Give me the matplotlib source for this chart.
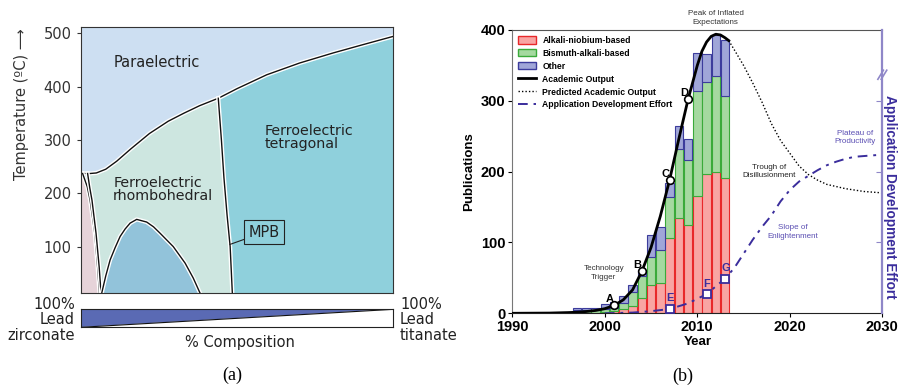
import numpy as np
import matplotlib
matplotlib.use('Agg')
import matplotlib.pyplot as plt
import matplotlib.patheffects as pe
from matplotlib.patches import Patch
from matplotlib.lines import Line2D

# ---------- (a) PZT phase diagram ----------
# composition (% PbTiO3) vs temperature (C)
curie_x = [0, 3, 5, 8, 11.5, 16, 22, 28, 33, 38, 44, 50, 59.5, 70, 80.8, 90, 100]
curie_t = [237, 237, 238, 245, 260, 283, 312, 335, 350, 364, 378, 396, 422, 444, 463, 478, 494]
mpb_x = [44, 45, 45.8, 46.8, 47.8, 48.5]
mpb_t = [378, 300, 230, 160, 100, 12.5]
afe_x = [0.6, 2.1, 3.0, 4.5, 5.4, 6.0]          # antiferroelectric edge
afe_t = [237, 212, 187, 125, 62, 12.5]
rho_x = [2.2, 2.9, 3.6, 4.9, 5.9, 6.5]          # rhombohedral left edge
rho_t = [237, 210, 187, 125, 62, 12.5]
dome_x = [6.7, 8, 9.4, 11, 12.6, 14.2, 15.8, 17.9, 21.1, 23.3, 25.4, 29.6, 33.4, 36, 38.2]
dome_t = [12.5, 45, 75, 98, 119, 133, 144, 151, 146, 137, 125, 100, 69, 41, 12.5]
sliver_x = [1.0, 2.1, 2.4]
sliver_t = [235, 235, 207]
comp_range = [0, 100]

# ---------- (b) publications ----------
years = np.arange(1990, 2014)
alkali = np.array([0, 0, 0, 0, 0, 0, 0, 1, 1, 1, 2, 3, 6, 10, 22, 40, 43, 107, 134, 124, 165, 196, 199, 191])
bismuth = np.array([0, 0, 0, 0, 0, 1, 0, 3, 3, 4, 4, 5, 9, 20, 31, 39, 47, 57, 98, 92, 149, 130, 136, 116])
other = np.array([1, 1, 0, 0, 1, 0, 1, 4, 4, 3, 7, 8, 10, 10, 8, 31, 32, 20, 32, 30, 54, 40, 58, 79])

acad_yr = [1990, 1994, 1996, 1997, 1998, 1999, 2000, 2001, 2002, 2003, 2004, 2005, 2006, 2007,
           2008, 2009, 2010, 2010.5, 2011, 2011.5, 2012, 2012.5, 2013, 2013.4]
acad_val = [0, 0.3, 1, 1.5, 2.5, 4, 6.5, 11, 19, 33, 59, 93, 137, 188,
            246, 302, 350, 370, 383, 391, 394, 393, 389, 385]
pred_yr = [2013.4, 2014, 2015, 2016, 2017, 2018, 2019, 2020, 2021, 2022, 2023, 2024, 2026, 2028, 2030]
pred_val = [385, 372, 350, 325, 298, 268, 244, 226, 208, 196, 188, 182, 176, 172, 170]
app_yr = [2000, 2003, 2005, 2007, 2009, 2011, 2013, 2014, 2015, 2016, 2017, 2018, 2019, 2020,
          2021, 2022, 2023, 2024, 2025, 2026, 2027, 2028, 2029, 2030]
app_val = [0, 1, 3, 6, 14, 27, 49, 64, 84, 104, 122, 138, 158, 174,
           186, 194, 202, 209, 214, 218, 221, 222, 223, 224]

acad_pts = ['A', 'B', 'C', 'D']
acad_pts_yr = [2001, 2004, 2007, 2009]
acad_pts_val = [11, 59, 188, 302]
app_pts = ['E', 'F', 'G']
app_pts_yr = [2007, 2011, 2013]
app_pts_val = [6, 27, 49]

fig = plt.figure(figsize=(9.04, 3.92), dpi=100)

# ================= panel (a) =================
ax = fig.add_axes([0.0893, 0.2518, 0.3458, 0.6786])
cx = np.array(curie_x)
ct = np.array(curie_t)
top = 520

ax.fill_between(cx, ct, top, color='#cddff2', lw=0)
# rhombohedral
m = (cx > rho_x[0]) & (cx < mpb_x[0])
rx = np.concatenate([[rho_x[0]], cx[m], mpb_x, rho_x[::-1]])
rt = np.concatenate([[rho_t[0]], ct[m], mpb_t, rho_t[::-1]])
ax.fill(rx, rt, color='#cde6e0', lw=0)
# tetragonal
m2 = cx > mpb_x[0]
tx = np.concatenate([mpb_x, [100], cx[m2][::-1]])
tt = np.concatenate([mpb_t, [12.5], ct[m2][::-1]])
ax.fill(tx, tt, color='#8fd0dc', lw=0)
# antiferroelectric
px = np.concatenate([[0], afe_x, [0]])
pt = np.concatenate([[afe_t[0]], afe_t, [12.5]])
ax.fill(px, pt, color='#e6d3d9', lw=0)
ax.fill(sliver_x, sliver_t, color='#1a9ad6', lw=0)
ax.fill(dome_x, dome_t, color='#92c3da', lw=0)

halo = [pe.Stroke(linewidth=3, foreground='white'), pe.Normal()]
for xs, ts in [(curie_x, curie_t), (mpb_x, mpb_t), (afe_x, afe_t), (rho_x, rho_t), (dome_x, dome_t)]:
    ax.plot(xs, ts, color='#111', lw=1.0, path_effects=halo)

ax.set_xlim(0, 100)
ax.set_ylim(12.5, 511)
ax.set_xticks([])
ax.set_yticks([100, 200, 300, 400, 500])
ax.tick_params(axis='y', labelsize=10.5, length=3, colors='#333')
for s in ax.spines.values():
    s.set_color('#333')
    s.set_linewidth(0.8)
ax.set_ylabel('Temperature (ºC) ⟶', fontsize=10.5, color='#333')
ax.yaxis.set_label_coords(-0.165, 0.71)

ax.text(24.3, 445, 'Paraelectric', fontsize=10.5, ha='center', va='center', color='#222')
ax.text(10.4, 207, 'Ferroelectric\nrhombohedral', fontsize=10.3, ha='left', va='center',
        color='#222', linespacing=0.95)
ax.text(58.7, 304, 'Ferroelectric\ntetragonal', fontsize=10.3, ha='left', va='center',
        color='#222', linespacing=0.95)
ax.annotate('MPB', xy=(47.7, 104), xytext=(58.7, 127), ha='center', va='center', fontsize=10.5,
            color='#222',
            bbox=dict(boxstyle='square,pad=0.3', fc='#8fd0dc', ec='#222', lw=0.8),
            arrowprops=dict(arrowstyle='-', color='#222', lw=0.8, shrinkA=0, shrinkB=0))

# composition bar
cb = fig.add_axes([0.0893, 0.165, 0.3458, 0.0459])
cb.fill([comp_range[0], comp_range[0], comp_range[1]], [0, 1, 1], color='#5a6ab4', lw=0)
cb.plot(comp_range, [0, 1], color='#111', lw=0.8)
cb.set_xlim(*comp_range)
cb.set_ylim(0, 1)
cb.set_xticks([])
cb.set_yticks([])
for s in cb.spines.values():
    s.set_color('#222')
    s.set_linewidth(0.8)

fig.text(0.083, 0.1837, '100%\nLead\nzirconate', ha='right', va='center', fontsize=10.5,
         linespacing=1.05, color='#222')
fig.text(0.4425, 0.1837, '100%\nLead\ntitanate', ha='left', va='center', fontsize=10.5,
         linespacing=1.05, color='#222')
fig.text(0.2655, 0.1268, '% Composition', ha='center', va='center', fontsize=10.5, color='#222')
fig.text(0.2566, 0.043, '(a)', ha='center', va='center', fontsize=13, family='Liberation Serif')

# ================= panel (b) =================
sans = 'Liberation Sans'
purple = '#3a2d9c'
lpurple = '#5b4fb3'
bx = fig.add_axes([0.5667, 0.2008, 0.4093, 0.7227])

red_fc, red_ec = '#f8a5a3', '#e8282a'
grn_fc, grn_ec = '#a5d9a0', '#3aaa3a'
blu_fc, blu_ec = '#a0a6d8', '#3c3c9c'
bx.bar(years, alkali, width=0.92, color=red_fc, edgecolor=red_ec, lw=0.8, zorder=2)
bx.bar(years, bismuth, width=0.92, bottom=alkali, color=grn_fc, edgecolor=grn_ec, lw=0.8, zorder=2)
bx.bar(years, other, width=0.92, bottom=alkali + bismuth, color=blu_fc, edgecolor=blu_ec, lw=0.8, zorder=2)

bx.plot(acad_yr, acad_val, color='k', lw=2, zorder=3)
bx.plot(pred_yr, pred_val, color='k', ls=(0, (1, 1.5)), lw=1, zorder=3)
bx.plot(app_yr, app_val, color=purple, ls=(0, (5, 3, 1.5, 3)), lw=1.4, zorder=3)
bx.plot(acad_pts_yr, acad_pts_val, 'o', mfc='white', mec='k', ms=5.5, mew=1.2, zorder=5)
bx.plot(app_pts_yr, app_pts_val, 's', mfc='white', mec=purple, ms=5.5, mew=1.3, zorder=5)

for lab, yr, v in zip(acad_pts, acad_pts_yr, acad_pts_val):
    bx.text(yr - 0.45, v + 9, lab, fontsize=8, fontweight='bold', family=sans,
            ha='center', va='center', color='k')
for lab, yr, v in zip(app_pts, app_pts_yr, app_pts_val):
    bx.text(yr + 0.05, v + 15, lab, fontsize=8, fontweight='bold', family=sans,
            ha='center', va='center', color=purple)

note = dict(fontsize=5.8, family=sans, ha='center', va='center', linespacing=1.3)
bx.text(1999.9, 57, 'Technology\nTrigger', color='#333', **note)
bx.text(2012, 417, 'Peak of Inflated\nExpectations', color='#333', clip_on=False, **note)
bx.text(2017.8, 200, 'Trough of\nDisillusionment', color='#222', **note)
bx.text(2027.05, 248, 'Plateau of\nProductivity', color=lpurple, **note)
bx.text(2020.3, 115, 'Slope of\nEnlightenment', color=lpurple, **note)

bx.set_xlim(1990, 2030)
bx.set_ylim(0, 400)
bx.set_xticks([1990, 2000, 2010, 2020, 2030])
bx.set_yticks([0, 100, 200, 300, 400])
bx.tick_params(length=3, width=0.8, pad=2)
for t in bx.get_xticklabels() + bx.get_yticklabels():
    t.set_family(sans)
    t.set_fontweight('bold')
    t.set_fontsize(10.5)
bx.set_xlabel('Year', family=sans, fontweight='bold', fontsize=9.5, labelpad=1)
bx.set_ylabel('Publications', family=sans, fontweight='bold', fontsize=9.5, labelpad=4)
bx.spines['left'].set_color('#777')
bx.spines['top'].set_color('#555')
bx.spines['top'].set_linewidth(0.8)
bx.spines['right'].set_visible(False)
bx.spines['bottom'].set_color('#222')

bx2 = bx.twinx()
bx2.set_ylim(bx.get_ylim())
bx2.set_yticks([100, 200, 300])
bx2.tick_params(direction='in', length=4, color='#8f87c8', labelright=False)
for k in ['left', 'top', 'bottom']:
    bx2.spines[k].set_visible(False)
bx2.spines['right'].set_color('#8f87c8')
bx2.spines['right'].set_linewidth(1.6)
bx2.set_ylabel('Application Development Effort', family=sans, fontweight='bold', fontsize=9.8,
               color=purple, rotation=-90, labelpad=11)
bx2.yaxis.set_label_coords(1.04, 0.41)
for dx in [0.0, 0.009]:
    bx2.plot([0.988 + dx, 1.003 + dx], [0.826, 0.858], color='#8f87c8', lw=1.2,
             transform=bx2.transAxes, clip_on=False)

handles = [Patch(fc=red_fc, ec=red_ec), Patch(fc=grn_fc, ec=grn_ec), Patch(fc=blu_fc, ec=blu_ec),
           Line2D([], [], color='k', lw=2), Line2D([], [], color='k', ls=(0, (1, 1.5)), lw=1),
           Line2D([], [], color=purple, ls=(0, (5, 3, 1.5, 3)), lw=1.4)]
labels = ['Alkali-niobium-based', 'Bismuth-alkali-based', 'Other', 'Academic Output',
          'Predicted Academic Output', 'Application Development Effort']
bx.legend(handles, labels, loc='upper left', bbox_to_anchor=(0.0, 1.0), frameon=False,
          prop=dict(family=sans, weight='bold', size=6.2), handlelength=2.0, handleheight=0.9,
          handletextpad=0.8, labelspacing=0.45, borderaxespad=0.3)

fig.text(0.7555, 0.04, '(b)', ha='center', va='center', fontsize=13, family='Liberation Serif')

fig.savefig('out.png', dpi=100)
